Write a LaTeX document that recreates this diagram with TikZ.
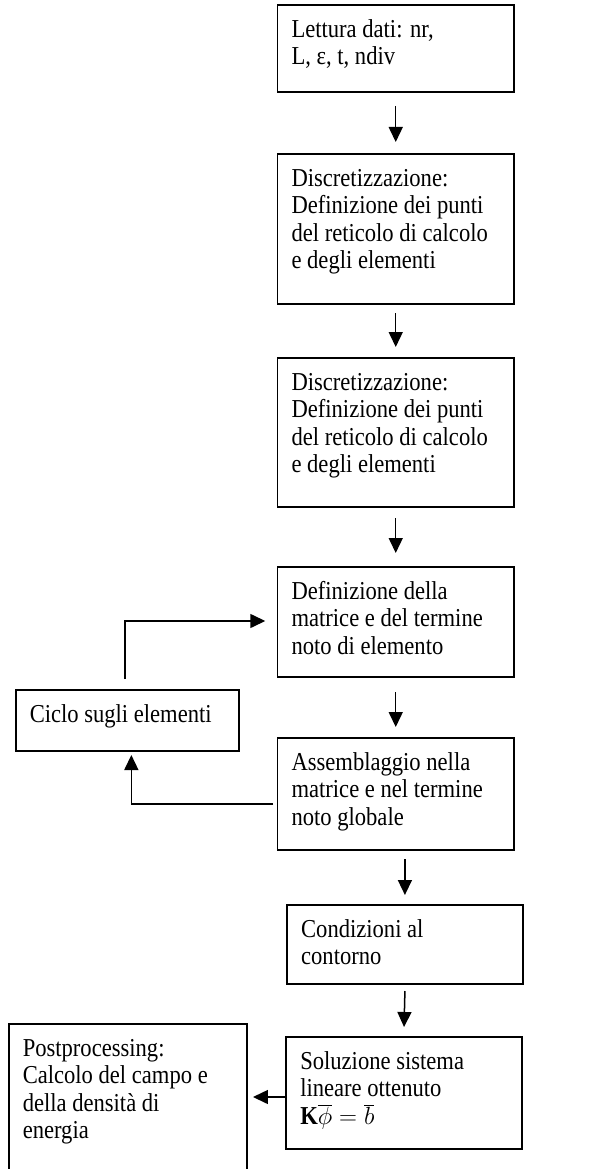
\documentclass[tikz,border=0pt]{standalone}
\usepackage{fontspec}
\setmainfont[FakeStretch=0.8755]{Liberation Serif}
\usetikzlibrary{arrows.meta,calc}
\newcommand\bxline[1]{\hbox to\hsize{\hspace*{14pt}\strut #1\hss}}
\newcommand\bxtext[3]{\parbox[t][#2][t]{#1}{\vspace*{12.7pt}#3}}
\tikzset{
  blk/.style={draw, line width=1.7pt, inner sep=0pt, outer sep=0pt, anchor=north west,
    font=\fontsize{25.8}{27.6}\selectfont},
  arr/.style={line width=1.5pt, -{Triangle[width=14pt,length=15pt]}}
}
\begin{document}
\begin{tikzpicture}[x=0.8755pt,y=-1pt]
\useasboundingbox (0,0) rectangle (683,1169);
\clip (0,0) rectangle (683,1169);
\node[blk] (read) at (317,5) {\bxtext{236.4pt}{87pt}{\bxline{Lettura dati: nr,}\bxline{L, ε, t, ndiv}}};
\node[blk] (disc1) at (317,154) {\bxtext{236.4pt}{150pt}{\bxline{Discretizzazione:}\bxline{Definizione dei punti}\bxline{del reticolo di calcolo}\bxline{e degli elementi}}};
\node[blk] (disc2) at (317,358) {\bxtext{236.4pt}{149pt}{\bxline{Discretizzazione:}\bxline{Definizione dei punti}\bxline{del reticolo di calcolo}\bxline{e degli elementi}}};
\node[blk] (defmat) at (317,567) {\bxtext{236.4pt}{110pt}{\bxline{Definizione della}\bxline{matrice e del termine}\bxline{noto di elemento}}};
\node[blk] (assembl) at (317,738) {\bxtext{236.4pt}{112pt}{\bxline{Assemblaggio nella}\bxline{matrice e nel termine}\bxline{noto globale}}};
\node[blk] (ciclo) at (18,690) {\bxtext{223.3pt}{61pt}{\bxline{Ciclo sugli elementi}}};
\node[blk] (cond) at (328,905) {\bxtext{235.5pt}{79pt}{\bxline{Condizioni al}\bxline{contorno}}};
\node[blk] (sol) at (327,1037) {\bxtext{235.5pt}{112pt}{\bxline{Soluzione sistema}\bxline{lineare ottenuto}\bxline{\smash{\textbf{K}$\overline{\phi}=\overline{b}$}}}};
\node[blk] (post) at (10,1024) {\bxtext{238.1pt}{170pt}{\bxline{Postprocessing:}\bxline{Calcolo del campo e}\bxline{della densità di}\bxline{energia}}};

\draw[arr] ($(read.south)+(0,14)$) -- ($(disc1.north)+(0,-12)$);
\draw[arr] ($(disc1.south)+(0,9)$) -- ($(disc2.north)+(0,-11)$);
\draw[arr] ($(disc2.south)+(0,11)$) -- ($(defmat.north)+(0,-14)$);
\draw[arr] ($(defmat.south)+(0,15)$) -- ($(assembl.north)+(0,-11)$);
\draw[arr] ($(assembl.south -| cond.north)+(0,9)$) -- ($(cond.north)+(0,-10)$);
\draw[arr] ($(cond.south)+(0,7)$) -- ($(sol.north)+(0,-10)$);
\draw[arr] ($(sol.west)+(1,4)$) -- ($(sol.west -| post.east)+(7,4)$);
\draw[arr] ($(ciclo.north)+(-2.5,-11)$) |- ($(defmat.west)+(-14,-1)$);
\draw[arr] ($(assembl.west)+(-5,10)$) -| ($(ciclo.south)+(4.5,4)$);
\end{tikzpicture}
\end{document}
